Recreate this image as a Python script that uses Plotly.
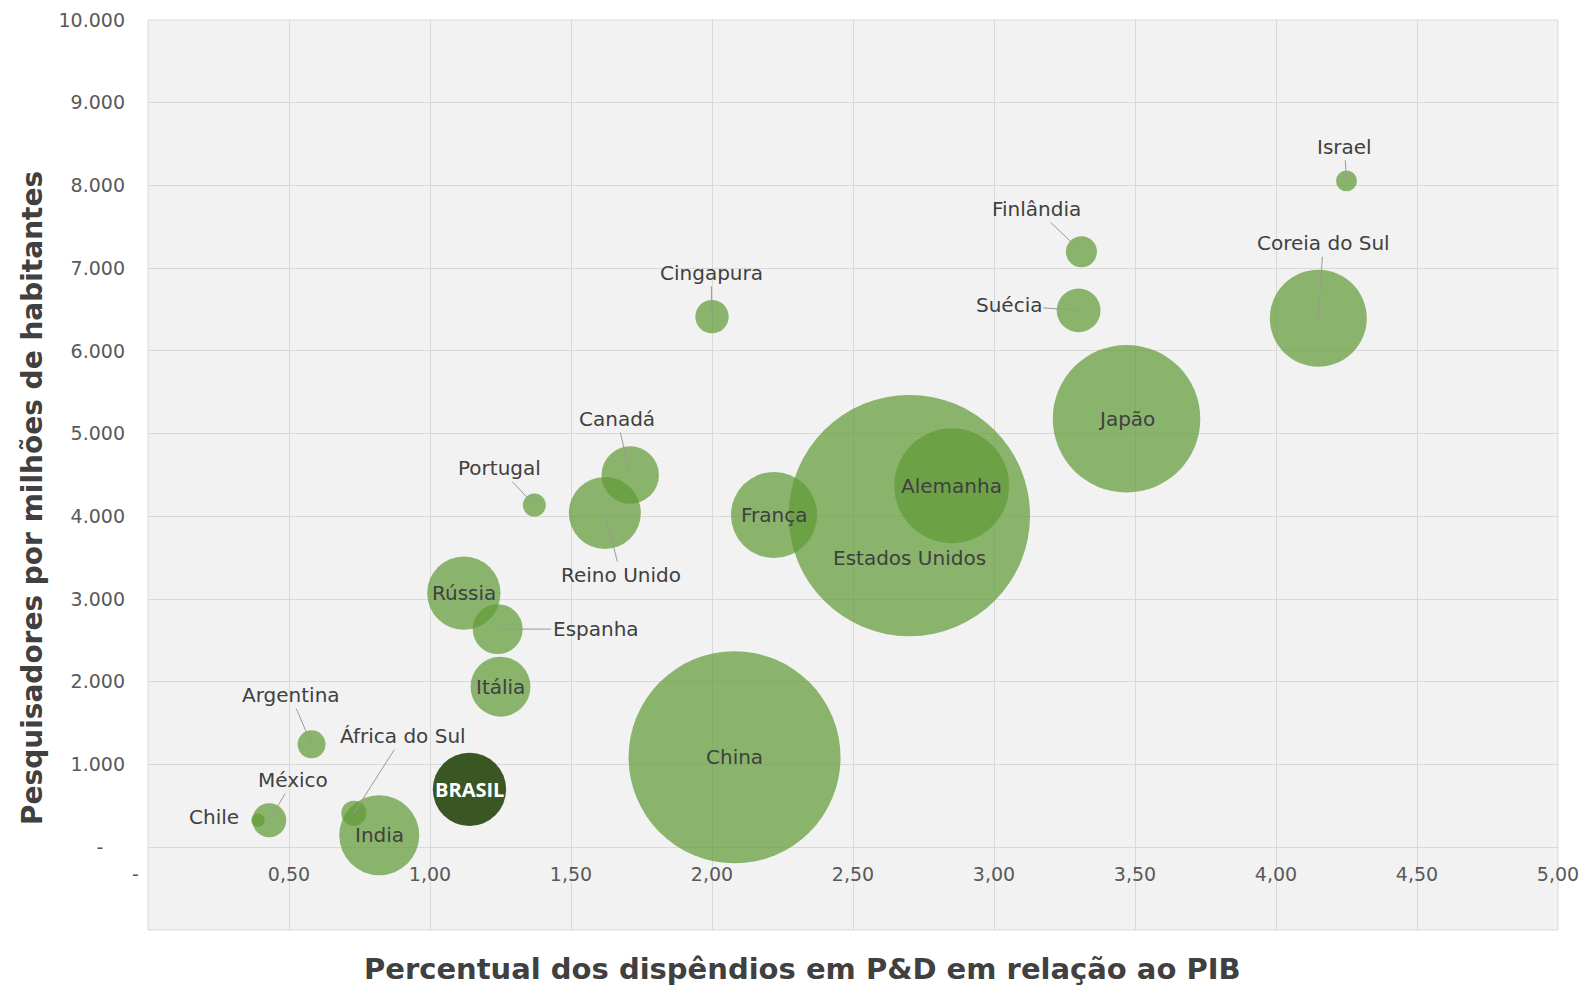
import plotly.graph_objects as go

# ---- data ----
countries = ["Estados Unidos", "China", "Japão", "Alemanha", "Coreia do Sul", "França",
             "India", "Rússia", "BRASIL", "Reino Unido", "Itália", "Canadá", "Espanha",
             "Suécia", "México", "Cingapura", "Finlândia", "Argentina", "África do Sul",
             "Portugal", "Israel", "Chile"]
rd_pct_gdp = [2.70, 2.08, 3.47, 2.85, 4.15, 2.22,
              0.82, 1.12, 1.14, 1.62, 1.25, 1.71, 1.24,
              3.30, 0.43, 2.00, 3.31, 0.58, 0.73,
              1.37, 4.25, 0.39]
researchers_per_million = [4010, 1088, 5180, 4370, 6395, 4017,
                           146, 3072, 700, 4040, 1941, 4500, 2637,
                           6490, 327, 6415, 7198, 1245, 412,
                           4137, 8055, 327]
rd_spend = [455, 351, 170, 103, 73.5, 58,
            50, 42, 42, 40.5, 28, 25.7, 19.5,
            15, 9, 8.7, 7.5, 6.1, 4.9,
            4.1, 3.4, 1.4]

x_tickvals = [0, 0.5, 1.0, 1.5, 2.0, 2.5, 3.0, 3.5, 4.0, 4.5, 5.0]
x_ticktext = ["-\u2002\u2002\u00a0", "0,50", "1,00", "1,50", "2,00", "2,50",
              "3,00", "3,50", "4,00", "4,50", "5,00"]
y_tickvals = [0, 1000, 2000, 3000, 4000, 5000, 6000, 7000, 8000, 9000, 10000]
y_ticktext = ["-\u2002\u00a0\u00a0", "1.000", "2.000", "3.000", "4.000", "5.000",
              "6.000", "7.000", "8.000", "9.000", "10.000"]

# label placement (pixel offsets of label from bubble centre)
label_offsets = {
    "Israel": (-2, -34), "Coreia do Sul": (5, -75), "Finlândia": (-45, -43),
    "Suécia": (-70, -5), "Cingapura": (-1, -44), "Canadá": (-13, -56),
    "Portugal": (-35, -37), "Reino Unido": (16, 62), "Espanha": (98, 0),
    "Argentina": (-21, -49), "África do Sul": (49, -77), "México": (24, -40),
}
inside_shift = {"Estados Unidos": -42}

GREEN = "rgba(97,154,55,0.72)"
BRAZIL = "rgb(58,86,35)"
LABEL_FONT = dict(family="DejaVu Sans", size=20, color="#404040")

colors = [BRAZIL if c == "BRASIL" else GREEN for c in countries]

fig = go.Figure()
fig.add_trace(go.Scatter(
    x=rd_pct_gdp, y=researchers_per_million, mode="markers",
    marker=dict(size=rd_spend, sizemode="area", sizeref=1 / 64.0, sizemin=2,
                color=colors, opacity=1, line=dict(width=0)),
    hoverinfo="text", text=countries, showlegend=False,
))

annotations = []
for c, xv, yv in zip(countries, rd_pct_gdp, researchers_per_million):
    if c in label_offsets:
        ax, ay = label_offsets[c]
        annotations.append(dict(x=xv, y=yv, xref="x", yref="y", text=c,
                                showarrow=True, ax=ax, ay=ay, arrowhead=0,
                                arrowwidth=1, arrowcolor="#9a9a9a", standoff=0,
                                startstandoff=0, font=LABEL_FONT))
    elif c == "Chile":
        annotations.append(dict(x=xv, y=yv, xref="x", yref="y", text=c,
                                showarrow=False, xshift=-44, yshift=3, font=LABEL_FONT))
    elif c == "BRASIL":
        annotations.append(dict(x=xv, y=yv, xref="x", yref="y", text="<b>BRASIL</b>",
                                showarrow=False,
                                font=dict(family="Open Sans", size=20, color="white")))
    else:
        annotations.append(dict(x=xv, y=yv, xref="x", yref="y", text=c,
                                showarrow=False, yshift=inside_shift.get(c, 0),
                                font=LABEL_FONT))

# axis titles
annotations.append(dict(x=0.4645, y=-0.043, xref="paper", yref="paper",
                        text="<b>Percentual dos dispêndios em P&D em relação ao PIB</b>",
                        showarrow=False, xanchor="center", yanchor="middle",
                        font=dict(family="DejaVu Sans", size=29, color="#404040")))
annotations.append(dict(x=-0.0823, y=0.4747, xref="paper", yref="paper",
                        text="<b>Pesquisadores por milhões de habitantes</b>",
                        showarrow=False, xanchor="center", yanchor="middle", textangle=-90,
                        font=dict(family="DejaVu Sans", size=28, color="#404040")))

fig.update_layout(
    width=1583, height=987,
    margin=dict(l=148, r=25, t=20, b=57),
    paper_bgcolor="white", plot_bgcolor="#f2f2f2",
    annotations=annotations,
    xaxis=dict(range=[0, 5], tickvals=x_tickvals, ticktext=x_ticktext,
               showgrid=True, gridcolor="#d9d9d9", gridwidth=1, zeroline=False,
               showline=False, anchor="free", position=1 / 11, ticks="",
               ticklabelstandoff=14, automargin=False,
               tickfont=dict(family="DejaVu Sans", size=19, color="#595959")),
    yaxis=dict(range=[-1000, 10000], tickvals=y_tickvals, ticktext=y_ticktext,
               showgrid=True, gridcolor="#d9d9d9", gridwidth=1, zeroline=False,
               showline=False, ticks="", ticklabelstandoff=22, automargin=False,
               tickfont=dict(family="DejaVu Sans", size=19, color="#595959")),
    shapes=[dict(type="rect", xref="paper", yref="paper", x0=0, x1=1, y0=0, y1=1,
                 line=dict(color="#d9d9d9", width=1), layer="below")],
)

fig.write_html("out.html", config={"displayModeBar": False},
               post_script="document.body.style.margin='0';document.body.style.overflow='hidden';")
